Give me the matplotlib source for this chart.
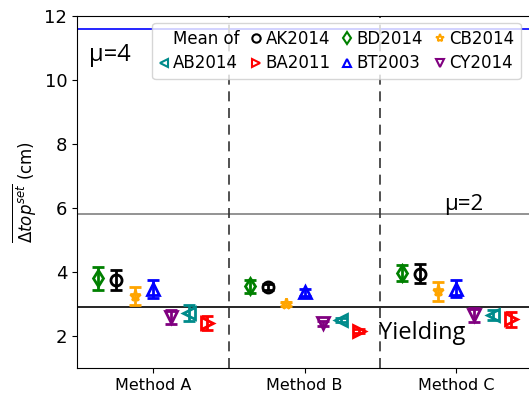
import numpy as np
import matplotlib
matplotlib.use("Agg")
import matplotlib.pyplot as plt
from matplotlib.lines import Line2D

# ═══ data ═══
methods = ["Method A", "Method B", "Method C"]
series = ["BD2014", "AK2014", "CB2014", "BT2003", "CY2014", "AB2014", "BA2011"]
means = {
    "BD2014": [3.80, 3.55, 3.97],
    "AK2014": [3.75, 3.53, 3.95],
    "CB2014": [3.25, 3.00, 3.40],
    "BT2003": [3.47, 3.36, 3.48],
    "CY2014": [2.58, 2.40, 2.66],
    "AB2014": [2.72, 2.50, 2.66],
    "BA2011": [2.40, 2.15, 2.52],
}
errs = {
    "BD2014": [0.36, 0.20, 0.26],
    "AK2014": [0.30, 0.08, 0.30],
    "CB2014": [0.29, 0.06, 0.30],
    "BT2003": [0.27, 0.10, 0.27],
    "CY2014": [0.22, 0.08, 0.21],
    "AB2014": [0.25, 0.06, 0.16],
    "BA2011": [0.22, 0.06, 0.23],
}
yielding = 2.9
mu2 = 5.8
mu4 = 11.6

styles = {
    "AK2014": ("o", "black"),
    "BD2014": ("d", "green"),
    "CB2014": ("*", "orange"),
    "AB2014": ("<", "darkcyan"),
    "BA2011": (">", "red"),
    "BT2003": ("^", "blue"),
    "CY2014": ("v", "purple"),
}

fig = plt.figure(figsize=(5.29, 4.0), dpi=100)
ax = fig.add_axes([77 / 529, 32 / 400, 455 / 529, 352 / 400])

x = np.arange(len(methods))
offsets = np.linspace(-0.36, 0.36, len(series))
for off, name in zip(offsets, series):
    m, c = styles[name]
    ax.errorbar(x + off, means[name], yerr=errs[name], fmt=m, color=c,
                mfc="none", mec=c, mew=2, ms=8, elinewidth=2, capsize=4,
                capthick=2.5, zorder=3)

ax.axhline(yielding, color="black", lw=1.2)
ax.axhline(mu2, color="gray", lw=1.2)
ax.axhline(mu4, color="blue", lw=1.2)
for xv in [0.5, 1.5]:
    ax.axvline(xv, color="#333333", ls=(0, (6, 4)), lw=1.2)

ax.text(-0.42, 10.58, "μ=4", fontsize=17, family="Open Sans")
ax.text(1.92, 5.95, "μ=2", fontsize=16, family="Open Sans")
ax.text(1.49, 1.9, "Yielding", fontsize=17, family="Open Sans")

ax.set_xlim(-0.5, 2.5)
ax.set_ylim(1, 12)
ax.set_xticks(x)
ax.set_xticklabels(methods, fontsize=11.5)
ax.set_yticks([2, 4, 6, 8, 10, 12])
ax.tick_params(axis="y", labelsize=13)
ax.set_ylabel(r"$\overline{\Delta top^{set}}$ (cm)", fontsize=12)

# legend: "Mean of" label with empty handle, column-major order
order = ["AB2014", "AK2014", "BA2011", "BD2014", "BT2003", "CB2014", "CY2014"]
handles = [Line2D([], [], ls="none", marker="none")]
labels = ["Mean of"]
for name in order:
    m, c = styles[name]
    handles.append(Line2D([], [], ls="none", marker=m, mfc="none", mec=c, mew=1.5, ms=6))
    labels.append(name)
ax.legend(handles, labels, ncol=4, loc="upper right", bbox_to_anchor=(0.975, 0.98),
          borderaxespad=0, fontsize=12, handlelength=0.6, handletextpad=0.25,
          columnspacing=0.7, borderpad=0.4, labelspacing=0.4)

fig.savefig("out.png", dpi=100)
